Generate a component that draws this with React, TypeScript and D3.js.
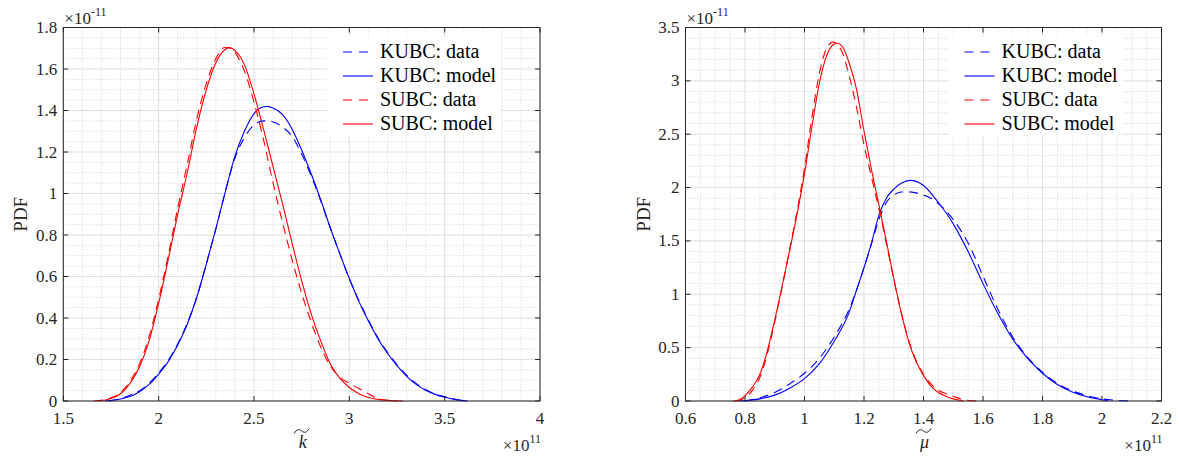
import React from "react";
import * as d3 from "d3";

// ---------- Left panel data (k~, x in 1e11, PDF in 1e-11) ----------
const kKubcModelX = [1.72, 1.8, 1.85, 1.9, 1.95, 2.0, 2.05, 2.1, 2.15, 2.2, 2.25, 2.3, 2.35, 2.4, 2.45, 2.5, 2.55, 2.57, 2.6, 2.65, 2.7, 2.75, 2.8, 2.85, 2.9, 2.95, 3.0, 3.05, 3.1, 3.15, 3.2, 3.25, 3.3, 3.35, 3.4, 3.45, 3.5, 3.55, 3.62];
const kKubcModelY = [0, 0.01, 0.022, 0.045, 0.08, 0.13, 0.19, 0.27, 0.37, 0.5, 0.66, 0.83, 1.01, 1.18, 1.3, 1.385, 1.418, 1.42, 1.412, 1.38, 1.31, 1.21, 1.095, 0.97, 0.835, 0.71, 0.59, 0.48, 0.385, 0.3, 0.23, 0.17, 0.12, 0.08, 0.052, 0.032, 0.018, 0.008, 0];

const kKubcDataX = [1.74, 1.8, 1.85, 1.9, 1.95, 2.0, 2.05, 2.1, 2.15, 2.2, 2.25, 2.3, 2.35, 2.4, 2.45, 2.5, 2.55, 2.6, 2.65, 2.7, 2.75, 2.8, 2.85, 2.9, 2.95, 3.0, 3.05, 3.1, 3.15, 3.2, 3.25, 3.3, 3.35, 3.4, 3.45, 3.5, 3.55, 3.6];
const kKubcDataY = [0, 0.012, 0.028, 0.05, 0.085, 0.135, 0.195, 0.275, 0.375, 0.5, 0.66, 0.83, 1.01, 1.17, 1.27, 1.33, 1.35, 1.345, 1.32, 1.275, 1.19, 1.085, 0.965, 0.835, 0.71, 0.59, 0.485, 0.39, 0.305, 0.235, 0.175, 0.125, 0.085, 0.055, 0.034, 0.02, 0.01, 0];

const kSubcModelX = [1.68, 1.75, 1.8, 1.85, 1.9, 1.95, 2.0, 2.05, 2.1, 2.15, 2.2, 2.25, 2.3, 2.35, 2.37, 2.4, 2.45, 2.5, 2.55, 2.6, 2.65, 2.7, 2.75, 2.8, 2.85, 2.9, 2.95, 3.0, 3.05, 3.1, 3.2, 3.25];
const kSubcModelY = [0, 0.012, 0.035, 0.085, 0.165, 0.29, 0.47, 0.68, 0.9, 1.1, 1.32, 1.5, 1.63, 1.695, 1.703, 1.69, 1.62, 1.48, 1.31, 1.13, 0.95, 0.76, 0.58, 0.42, 0.29, 0.18, 0.11, 0.065, 0.035, 0.017, 0.003, 0];

const kSubcDataX = [1.66, 1.75, 1.8, 1.85, 1.9, 1.95, 2.0, 2.05, 2.1, 2.15, 2.2, 2.25, 2.3, 2.35, 2.38, 2.4, 2.45, 2.5, 2.55, 2.6, 2.65, 2.7, 2.75, 2.8, 2.85, 2.9, 2.95, 3.0, 3.05, 3.1, 3.15, 3.2, 3.28];
const kSubcDataY = [0, 0.015, 0.04, 0.095, 0.18, 0.31, 0.49, 0.7, 0.93, 1.14, 1.36, 1.53, 1.65, 1.705, 1.7, 1.68, 1.59, 1.44, 1.26, 1.05, 0.86, 0.68, 0.52, 0.38, 0.26, 0.17, 0.115, 0.085, 0.06, 0.035, 0.012, 0.003, 0];

// ---------- Right panel data (mu~) ----------
const muKubcModelX = [0.78, 0.85, 0.9, 0.95, 1.0, 1.05, 1.1, 1.15, 1.175, 1.2, 1.225, 1.25, 1.275, 1.3, 1.325, 1.355, 1.4, 1.45, 1.5, 1.55, 1.6, 1.65, 1.7, 1.75, 1.8, 1.85, 1.9, 1.95, 2.0, 2.02];
const muKubcModelY = [0, 0.02, 0.055, 0.12, 0.21, 0.35, 0.56, 0.83, 1.04, 1.25, 1.48, 1.74, 1.9, 1.985, 2.04, 2.067, 2.02, 1.86, 1.66, 1.4, 1.1, 0.82, 0.58, 0.4, 0.26, 0.155, 0.085, 0.04, 0.012, 0];

const muKubcDataX = [0.8, 0.85, 0.9, 0.95, 1.0, 1.05, 1.1, 1.15, 1.175, 1.2, 1.225, 1.25, 1.275, 1.3, 1.325, 1.35, 1.375, 1.4, 1.425, 1.45, 1.5, 1.55, 1.6, 1.65, 1.7, 1.75, 1.8, 1.85, 1.9, 1.95, 2.0, 2.05, 2.1];
const muKubcDataY = [0, 0.03, 0.08, 0.16, 0.26, 0.4, 0.6, 0.86, 1.04, 1.25, 1.47, 1.7, 1.86, 1.93, 1.958, 1.96, 1.95, 1.93, 1.9, 1.85, 1.7, 1.48, 1.17, 0.86, 0.6, 0.41, 0.27, 0.165, 0.095, 0.05, 0.02, 0.006, 0];

const muSubcModelX = [0.76, 0.78, 0.8, 0.825, 0.85, 0.875, 0.9, 0.925, 0.95, 0.975, 1.0, 1.025, 1.05, 1.075, 1.1, 1.11, 1.125, 1.15, 1.175, 1.2, 1.225, 1.25, 1.275, 1.3, 1.325, 1.35, 1.375, 1.4, 1.425, 1.45, 1.475, 1.5, 1.535];
const muSubcModelY = [0, 0.01, 0.05, 0.13, 0.25, 0.47, 0.76, 1.08, 1.41, 1.75, 2.13, 2.57, 2.98, 3.24, 3.345, 3.353, 3.33, 3.17, 2.92, 2.53, 2.17, 1.84, 1.5, 1.15, 0.83, 0.56, 0.37, 0.24, 0.14, 0.08, 0.045, 0.02, 0];

const muSubcDataX = [0.77, 0.8, 0.825, 0.85, 0.875, 0.9, 0.925, 0.95, 0.975, 1.0, 1.025, 1.05, 1.075, 1.095, 1.125, 1.15, 1.175, 1.2, 1.225, 1.25, 1.275, 1.3, 1.325, 1.35, 1.375, 1.4, 1.425, 1.45, 1.475, 1.5, 1.525, 1.55, 1.585];
const muSubcDataY = [0, 0.03, 0.1, 0.22, 0.44, 0.74, 1.07, 1.42, 1.78, 2.18, 2.66, 3.07, 3.31, 3.363, 3.28, 3.05, 2.75, 2.4, 2.1, 1.8, 1.48, 1.14, 0.83, 0.57, 0.38, 0.25, 0.16, 0.1, 0.07, 0.045, 0.02, 0.005, 0];

// ---------- Ticks ----------
const kXTicks = [1.5, 2, 2.5, 3, 3.5, 4];
const kXTickLabels = ["1.5", "2", "2.5", "3", "3.5", "4"];
const kYTicks = [0, 0.2, 0.4, 0.6, 0.8, 1, 1.2, 1.4, 1.6, 1.8];
const kYTickLabels = ["0", "0.2", "0.4", "0.6", "0.8", "1", "1.2", "1.4", "1.6", "1.8"];
const muXTicks = [0.6, 0.8, 1, 1.2, 1.4, 1.6, 1.8, 2, 2.2];
const muXTickLabels = ["0.6", "0.8", "1", "1.2", "1.4", "1.6", "1.8", "2", "2.2"];
const muYTicks = [0, 0.5, 1, 1.5, 2, 2.5, 3, 3.5];
const muYTickLabels = ["0", "0.5", "1", "1.5", "2", "2.5", "3", "3.5"];

const legendNames = ["KUBC: data", "KUBC: model", "SUBC: data", "SUBC: model"];

const BLUE = "#0000ff";
const RED = "#ff0000";
const AX = "#262626";
const FONT = "Liberation Serif, Times New Roman, serif";

type Series = { x: number[]; y: number[]; color: string; dashed: boolean };

type PanelProps = {
  left: number;
  right: number;
  top: number;
  bottom: number;
  xDomain: [number, number];
  yDomain: [number, number];
  xTicks: number[];
  xTickLabels: string[];
  yTicks: number[];
  yTickLabels: string[];
  xMinorStep: number;
  yMinorStep: number;
  series: Series[];
  xSymbol: string;
};

function Panel(p: PanelProps) {
  const xs = d3.scaleLinear().domain(p.xDomain).range([p.left, p.right]);
  const ys = d3.scaleLinear().domain(p.yDomain).range([p.bottom, p.top]);
  const eps = 1e-9;
  const xMinor = d3
    .range(p.xDomain[0], p.xDomain[1] + eps, p.xMinorStep)
    .filter((v) => !p.xTicks.some((t) => Math.abs(t - v) < 1e-6));
  const yMinor = d3
    .range(p.yDomain[0], p.yDomain[1] + eps, p.yMinorStep)
    .filter((v) => !p.yTicks.some((t) => Math.abs(t - v) < 1e-6));
  const line = d3
    .line<[number, number]>()
    .x((d) => xs(d[0]))
    .y((d) => ys(d[1]))
    .curve(d3.curveMonotoneX);
  const tickLen = 5;
  const cx = (p.left + p.right) / 2;
  const legX = p.right - 213;
  const legRows = [52, 76, 100, 124];
  const tildeY = p.bottom + 30;
  return (
    <g>
      {/* minor grid */}
      {xMinor.map((v, i) => (
        <line key={"xm" + i} x1={xs(v)} x2={xs(v)} y1={p.top} y2={p.bottom} stroke="#c4c4c4" strokeWidth={0.8} strokeDasharray="1,2" />
      ))}
      {yMinor.map((v, i) => (
        <line key={"ym" + i} x1={p.left} x2={p.right} y1={ys(v)} y2={ys(v)} stroke="#c4c4c4" strokeWidth={0.8} strokeDasharray="1,2" />
      ))}
      {/* major grid */}
      {p.xTicks.map((v, i) => (
        <line key={"xg" + i} x1={xs(v)} x2={xs(v)} y1={p.top} y2={p.bottom} stroke="#dfdfdf" strokeWidth={1} />
      ))}
      {p.yTicks.map((v, i) => (
        <line key={"yg" + i} x1={p.left} x2={p.right} y1={ys(v)} y2={ys(v)} stroke="#dfdfdf" strokeWidth={1} />
      ))}
      {/* curves */}
      <g>
        {p.series.map((s, i) => (
          <path
            key={"s" + i}
            d={line(s.x.map((x, j) => [x, s.y[j]] as [number, number])) || ""}
            fill="none"
            stroke={s.color}
            strokeWidth={1.1}
            strokeDasharray={s.dashed ? "9,6" : undefined}
          />
        ))}
      </g>
      {/* box */}
      <rect x={p.left} y={p.top} width={p.right - p.left} height={p.bottom - p.top} fill="none" stroke={AX} strokeWidth={1} />
      {/* ticks */}
      {p.xTicks.map((v, i) => (
        <g key={"xt" + i}>
          <line x1={xs(v)} x2={xs(v)} y1={p.bottom} y2={p.bottom - tickLen} stroke={AX} />
          <line x1={xs(v)} x2={xs(v)} y1={p.top} y2={p.top + tickLen} stroke={AX} />
          <text x={xs(v)} y={p.bottom + 23} textAnchor="middle" fontFamily={FONT} fontSize={17} fill={AX}>
            {p.xTickLabels[i]}
          </text>
        </g>
      ))}
      {p.yTicks.map((v, i) => (
        <g key={"yt" + i}>
          <line x1={p.left} x2={p.left + tickLen} y1={ys(v)} y2={ys(v)} stroke={AX} />
          <line x1={p.right} x2={p.right - tickLen} y1={ys(v)} y2={ys(v)} stroke={AX} />
          <text x={p.left - 6} y={ys(v) + 5.5} textAnchor="end" fontFamily={FONT} fontSize={17} fill={AX}>
            {p.yTickLabels[i]}
          </text>
        </g>
      ))}
      {/* exponent labels */}
      <text x={p.left + 1} y={p.top - 4} fontFamily={FONT} fontSize={17} fill={AX}>
        ×10
        <tspan dy={-8} fontSize={12}>-11</tspan>
      </text>
      <text x={p.right + 1} y={p.bottom + 50} textAnchor="end" fontFamily={FONT} fontSize={17} fill={AX}>
        ×10
        <tspan dy={-8} fontSize={12}>11</tspan>
      </text>
      {/* axis labels */}
      <text
        transform={`translate(${p.left - 36},${(p.top + p.bottom) / 2}) rotate(-90)`}
        textAnchor="middle"
        fontFamily={FONT}
        fontSize={19}
        fill={AX}
      >
        PDF
      </text>
      <text x={cx + 1} y={p.bottom + 47} textAnchor="middle" fontFamily={FONT} fontStyle="italic" fontSize={18} fill={AX}>
        {p.xSymbol}
      </text>
      <path
        d={`M${cx - 7.5},${tildeY + 2.5} C${cx - 5},${tildeY - 2} ${cx - 2.5},${tildeY - 2} ${cx},${tildeY} S${cx + 5},${tildeY + 2} ${cx + 7.5},${tildeY - 2.5}`}
        fill="none"
        stroke={AX}
        strokeWidth={1}
      />
      {/* legend */}
      <rect x={legX} y={36} width={174} height={99} fill="#ffffff" />
      {p.series.map((s, i) => (
        <g key={"lg" + i}>
          <line
            x1={legX + 16}
            x2={legX + 46}
            y1={legRows[i]}
            y2={legRows[i]}
            stroke={s.color}
            strokeWidth={1.1}
            strokeDasharray={s.dashed ? "9,7" : undefined}
          />
          <text x={legX + 53} y={legRows[i] + 6} fontFamily={FONT} fontSize={20} fill="#000">
            {legendNames[i]}
          </text>
        </g>
      ))}
    </g>
  );
}

export default function App() {
  const leftSeries: Series[] = [
    { x: kKubcDataX, y: kKubcDataY, color: BLUE, dashed: true },
    { x: kKubcModelX, y: kKubcModelY, color: BLUE, dashed: false },
    { x: kSubcDataX, y: kSubcDataY, color: RED, dashed: true },
    { x: kSubcModelX, y: kSubcModelY, color: RED, dashed: false },
  ];
  const rightSeries: Series[] = [
    { x: muKubcDataX, y: muKubcDataY, color: BLUE, dashed: true },
    { x: muKubcModelX, y: muKubcModelY, color: BLUE, dashed: false },
    { x: muSubcDataX, y: muSubcDataY, color: RED, dashed: true },
    { x: muSubcModelX, y: muSubcModelY, color: RED, dashed: false },
  ];
  return (
    <svg
      width={1179}
      height={458}
      viewBox="0 0 1179 458"
      style={{ position: "absolute", left: 0, top: 0, background: "#fff" }}
    >
      <rect x={0} y={0} width={1179} height={458} fill="#fff" />
      <Panel
        left={63.3}
        right={540}
        top={27.5}
        bottom={401}
        xDomain={[1.5, 4]}
        yDomain={[0, 1.8]}
        xTicks={kXTicks}
        xTickLabels={kXTickLabels}
        yTicks={kYTicks}
        yTickLabels={kYTickLabels}
        xMinorStep={0.1}
        yMinorStep={0.05}
        series={leftSeries}
        xSymbol="k"
      />
      <Panel
        left={685.5}
        right={1161.5}
        top={27.5}
        bottom={401}
        xDomain={[0.6, 2.2]}
        yDomain={[0, 3.5]}
        xTicks={muXTicks}
        xTickLabels={muXTickLabels}
        yTicks={muYTicks}
        yTickLabels={muYTickLabels}
        xMinorStep={0.05}
        yMinorStep={0.1}
        series={rightSeries}
        xSymbol="μ"
      />
    </svg>
  );
}
